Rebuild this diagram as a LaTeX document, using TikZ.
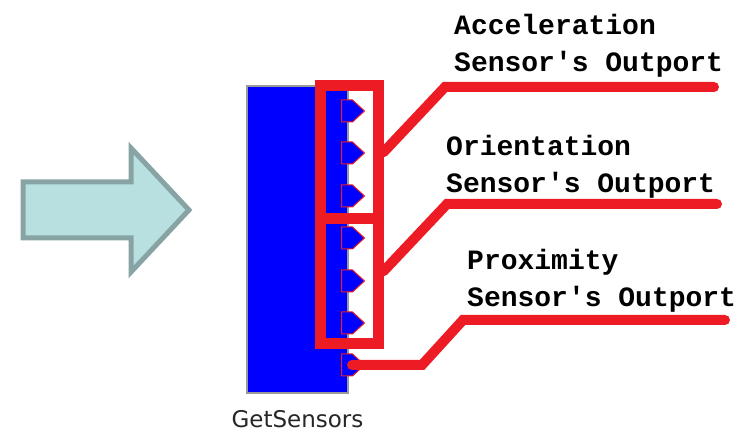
\documentclass[tikz,border=0pt]{standalone}
\usepackage{fontspec}
\usepackage{tikz}
\usetikzlibrary{shapes.symbols}
\newfontfamily\portfont{Liberation Mono}
\newfontfamily\compfont{DejaVu Sans}
\definecolor{wireRed}{HTML}{ED1C24}
\definecolor{compBlue}{HTML}{0000FF}
\definecolor{compEdge}{HTML}{9A9A9A}
\definecolor{arrowFill}{HTML}{B9E0E1}
\definecolor{arrowEdge}{HTML}{87A3A4}

\begin{document}
\begin{tikzpicture}[
  x=1pt, y=-1pt,
  comp/.style={draw=compEdge, fill=compBlue, line width=1.5pt,
               minimum width=101pt, minimum height=307pt, inner sep=0pt},
  port/.style={signal, signal to=east, signal pointer angle=85,
               draw=wireRed, fill=compBlue, line width=1pt, anchor=west,
               minimum width=23pt, minimum height=22pt, inner sep=0pt},
  grp/.style={draw=wireRed, line width=11pt, minimum width=57.5pt,
              inner sep=0pt},
  wire/.style={draw=wireRed, line width=10pt, line cap=round,
               line join=miter},
  portlabel/.style={anchor=base west, align=left, inner sep=0pt,
                    font=\portfont\bfseries\fontsize{28}{37}\selectfont},
]
\useasboundingbox (0,0) rectangle (742,435);

% --- incoming arrow on the left
\draw[fill=arrowFill, draw=arrowEdge, line width=5pt]
  (23,182) -- (131,182) -- (131,148) -- (189,210) -- (131,272)
  -- (131,238) -- (23,238) -- cycle;

% --- the component and its out ports
\node[comp] (gs) at (297.5,239.5) {};
\node[anchor=base, inner sep=0pt, text=black!85,
      font=\compfont\fontsize{23}{28}\selectfont]
  (gsLabel) at (297.5,428) {GetSensors};

\foreach \y [count=\i] in {111,153,196,238,281,323,365}
  \node[port] (p\i) at (341,\y) {};

% --- port groups
\node[grp, minimum height=133.5pt] (accBox) at (349.25,152.25) {};
\node[grp, minimum height=124.5pt] (oriBox) at (349.25,281.25) {};

% --- labels (base = last line)
\node[portlabel] (accLabel) at (454,72) {Acceleration\\Sensor's Outport};
\node[portlabel] (oriLabel) at (446,193) {Orientation\\Sensor's Outport};
\node[portlabel] (proxLabel) at (467,307) {Proximity\\Sensor's Outport};

% --- leader lines
\coordinate (accKnee) at (445,87);
\coordinate (accEnd) at (714,87);
\coordinate (oriKnee) at (447,204);
\coordinate (oriEnd) at (717,204);
\coordinate (proxBend) at (422,365);
\coordinate (proxKnee) at (463,320);
\coordinate (proxEnd) at (725,320);

\draw[wire] (accBox.east) -- (accKnee) -- (accEnd);
\draw[wire] ([yshift=10pt]oriBox.east) -- (oriKnee) -- (oriEnd);
\draw[wire] ([xshift=5pt]p7.center) -- (proxBend) -- (proxKnee) -- (proxEnd);
\end{tikzpicture}
\end{document}
